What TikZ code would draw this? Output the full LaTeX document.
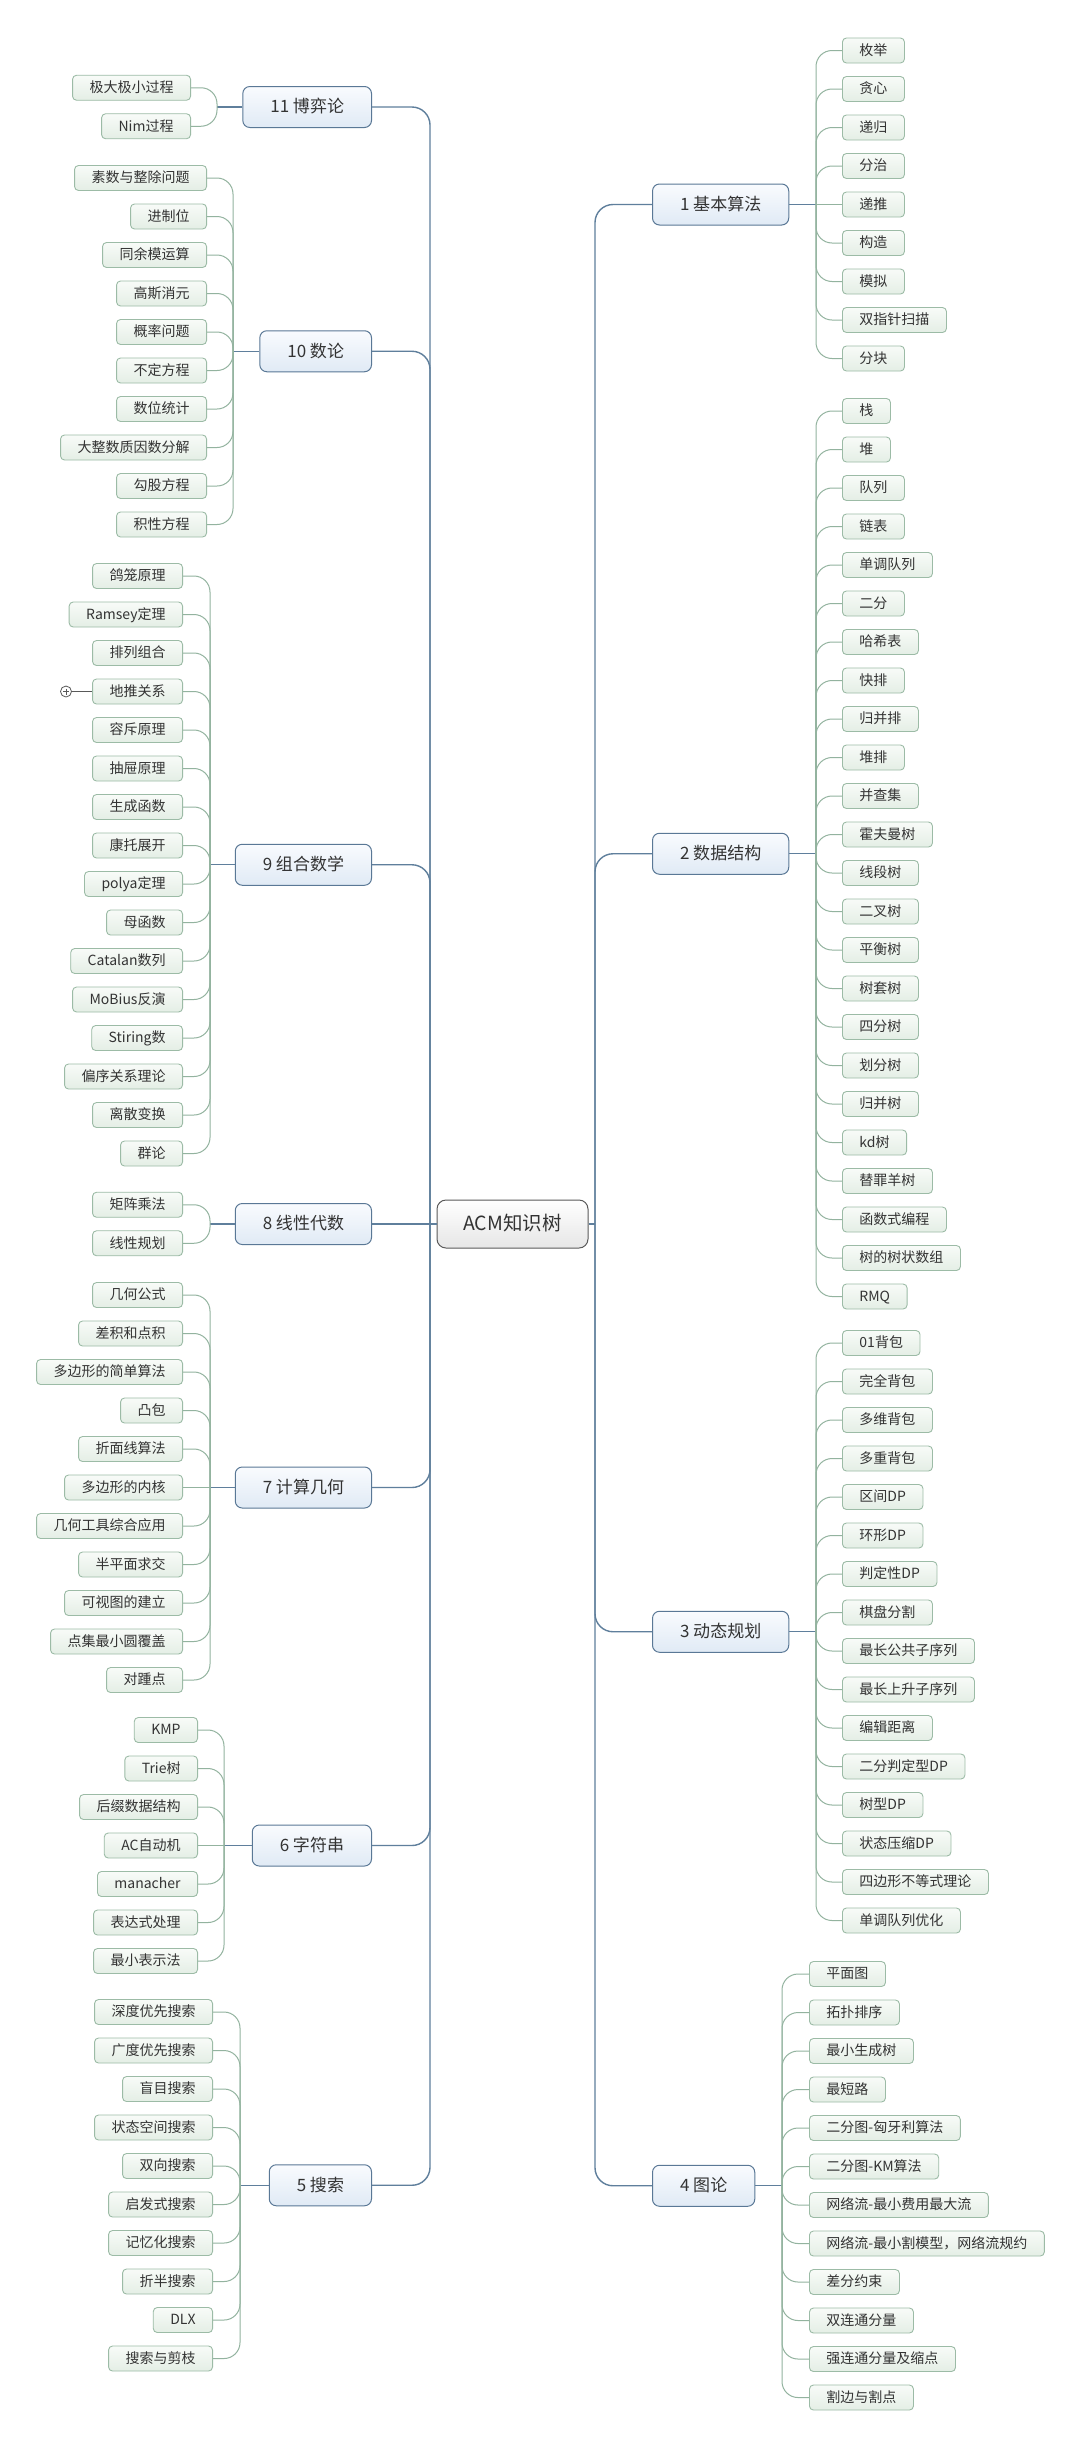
\documentclass[tikz,border=0pt]{standalone}
\usepackage{fontspec}
\setmainfont{Noto Sans CJK SC}
\definecolor{mainln}{HTML}{5F7F9C}
\definecolor{leafln}{HTML}{93B39F}
\definecolor{leafbd}{HTML}{9CBBA6}
\definecolor{leaftop}{HTML}{F8FBF8}
\definecolor{leafbot}{HTML}{E4EEE5}
\definecolor{parbd}{HTML}{5A7896}
\definecolor{partop}{HTML}{F9FBFE}
\definecolor{parbot}{HTML}{E0EAF5}
\definecolor{rootbd}{HTML}{5A5A5A}
\definecolor{rootbot}{HTML}{E6E6E6}
\definecolor{txt}{HTML}{333333}
\tikzset{
  leaf/.style={draw=leafbd, line width=0.9pt, top color=leaftop, bottom color=leafbot,
    rounded corners=4pt, minimum height=25pt, inner xsep=17pt, inner ysep=0pt,
    text height=11pt, text depth=1.5pt, font=\fontsize{14}{16}\selectfont, text=txt},
  parent/.style={draw=parbd, line width=1pt, top color=partop, bottom color=parbot,
    rounded corners=7pt, minimum height=41pt, inner xsep=27.5pt, inner ysep=0pt,
    text height=13.5pt, text depth=2pt, font=\fontsize{17}{20}\selectfont, text=txt},
  root/.style={draw=rootbd, line width=1pt, top color=white, bottom color=rootbot,
    rounded corners=9pt, minimum width=151pt, minimum height=48pt, inner ysep=0pt,
    text height=15.5pt, text depth=2.5pt, font=\fontsize{19.5}{22}\selectfont, text=txt},
  mainline/.style={draw=mainln, line width=1.4pt},
  stubline/.style={draw=mainln, line width=1.1pt},
  leafline/.style={draw=leafln, line width=1pt},
  moremark/.style={draw=gray!70!black, line width=0.8pt},
}
\newcommand{\leavesR}[6]{%
  \foreach \lbl [count=\i] in {#6} {%
    \pgfmathsetmacro{\ly}{#5+(\i-1)*38.5}%
    \pgfmathtruncatemacro{\same}{abs(\ly-(#2))<0.5}%
    \node[leaf, anchor=west] (#1-\i) at (#4,\ly) {\lbl};
    \ifnum\same=1
      \draw[leafline] (#3,#2) -- (#1-\i.west);
    \else
      \draw[leafline, rounded corners=16pt] (#3,#2) -- (#3,\ly) -- (#1-\i.west);
    \fi
  }%
}
\newcommand{\leavesL}[6]{%
  \foreach \lbl [count=\i] in {#6} {%
    \pgfmathsetmacro{\ly}{#5+(\i-1)*38.5}%
    \pgfmathtruncatemacro{\same}{abs(\ly-(#2))<0.5}%
    \node[leaf, anchor=east] (#1-\i) at (#4,\ly) {\lbl};
    \ifnum\same=1
      \draw[leafline] (#3,#2) -- (#1-\i.east);
    \else
      \draw[leafline, rounded corners=16pt] (#3,#2) -- (#3,\ly) -- (#1-\i.east);
    \fi
  }%
}
\begin{document}
\begin{tikzpicture}[x=1pt,y=-1pt]
\useasboundingbox (0,0) rectangle (1082,2447);
\fill[white] (0,0) rectangle (1082,2447);

% root
\node[root] (root) at (512.5,1224) {ACM知识树};

% right main topics
\node[parent, anchor=west] (p1) at (652,204.5) {1 基本算法};
\node[parent, anchor=west] (p2) at (652,853.75) {2 数据结构};
\node[parent, anchor=west] (p3) at (652,1631.75) {3 动态规划};
\node[parent, anchor=west] (p4) at (652,2185.75) {4 图论};
% left main topics
\node[parent, anchor=east] (p11) at (372,107) {11 博弈论};
\node[parent, anchor=east] (p10) at (372,351.25) {10 数论};
\node[parent, anchor=east] (p9) at (372,864.75) {9 组合数学};
\node[parent, anchor=east] (p8) at (372,1224) {8 线性代数};
\node[parent, anchor=east] (p7) at (372,1487.5) {7 计算几何};
\node[parent, anchor=east] (p6) at (372,1845.5) {6 字符串};
\node[parent, anchor=east] (p5) at (372,2185.25) {5 搜索};

% main connectors
\draw[mainline] (root.west) -- (430,1224);
\draw[mainline] (root.east) -- (595,1224);
\draw[mainline, rounded corners=18pt] (430,1224) -- (430,107) -- (p11.east);
\draw[mainline, rounded corners=18pt] (430,1224) -- (430,351.25) -- (p10.east);
\draw[mainline, rounded corners=18pt] (430,1224) -- (430,864.75) -- (p9.east);
\draw[mainline] (430,1224) -- (p8.east);
\draw[mainline, rounded corners=18pt] (430,1224) -- (430,1487.5) -- (p7.east);
\draw[mainline, rounded corners=18pt] (430,1224) -- (430,1845.5) -- (p6.east);
\draw[mainline, rounded corners=18pt] (430,1224) -- (430,2185.25) -- (p5.east);
\draw[mainline, rounded corners=18pt] (595,1224) -- (595,204.5) -- (p1.west);
\draw[mainline, rounded corners=18pt] (595,1224) -- (595,853.75) -- (p2.west);
\draw[mainline, rounded corners=18pt] (595,1224) -- (595,1631.75) -- (p3.west);
\draw[mainline, rounded corners=18pt] (595,1224) -- (595,2185.75) -- (p4.west);

% stubs from topics to their leaf trunks
\draw[stubline] (p1.east) -- (816,204.5);
\draw[stubline] (p2.east) -- (816,853.75);
\draw[stubline] (p3.east) -- (816,1631.75);
\draw[stubline] (p4.east) -- (782,2185.75);
\draw[stubline] (p11.west) -- (217,107);
\draw[stubline] (p10.west) -- (233,351.25);
\draw[stubline] (p9.west) -- (210,864.75);
\draw[stubline] (p8.west) -- (210,1224);
\draw[stubline] (p7.west) -- (210,1487.5);
\draw[stubline] (p6.west) -- (224,1845.5);
\draw[stubline] (p5.west) -- (240,2185.25);

% leaves, right side
\leavesR{r1}{204.5}{816}{842}{50.5}{枚举,贪心,递归,分治,递推,构造,模拟,双指针扫描,分块}
\leavesR{r2}{853.75}{816}{842}{411}{栈,堆,队列,链表,单调队列,二分,哈希表,快排,归并排,堆排,并查集,霍夫曼树,线段树,二叉树,平衡树,树套树,四分树,划分树,归并树,kd树,替罪羊树,函数式编程,树的树状数组,RMQ}
\leavesR{r3}{1631.75}{816}{842}{1343}{01背包,完全背包,多维背包,多重背包,区间DP,环形DP,判定性DP,棋盘分割,最长公共子序列,最长上升子序列,编辑距离,二分判定型DP,树型DP,状态压缩DP,四边形不等式理论,单调队列优化}
\leavesR{r4}{2185.75}{782}{809}{1974}{平面图,拓扑排序,最小生成树,最短路,二分图-匈牙利算法,二分图-KM算法,网络流-最小费用最大流,网络流-最小割模型，网络流规约,差分约束,双连通分量,强连通分量及缩点,割边与割点}

% leaves, left side
\leavesL{l11}{107}{217}{191}{87.75}{极大极小过程,Nim过程}
\leavesL{l10}{351.25}{233}{207}{178}{素数与整除问题,进制位,同余模运算,高斯消元,概率问题,不定方程,数位统计,大整数质因数分解,勾股方程,积性方程}
\leavesL{l9}{864.75}{210}{183}{576}{鸽笼原理,Ramsey定理,排列组合,地推关系,容斥原理,抽屉原理,生成函数,康托展开,polya定理,母函数,Catalan数列,MoBius反演,Stiring数,偏序关系理论,离散变换,群论}
\leavesL{l8}{1224}{210}{183}{1204.75}{矩阵乘法,线性规划}
\leavesL{l7}{1487.5}{210}{183}{1295}{几何公式,差积和点积,多边形的简单算法,凸包,折面线算法,多边形的内核,几何工具综合应用,半平面求交,可视图的建立,点集最小圆覆盖,对踵点}
\leavesL{l6}{1845.5}{224}{198}{1730}{KMP,Trie树,后缀数据结构,AC自动机,manacher,表达式处理,最小表示法}
\leavesL{l5}{2185.25}{240}{213}{2012}{深度优先搜索,广度优先搜索,盲目搜索,状态空间搜索,双向搜索,启发式搜索,记忆化搜索,折半搜索,DLX,搜索与剪枝}

% collapsed-branch marker on 地推关系
\node[moremark, circle, fill=white, minimum size=11pt, inner sep=0pt] (more) at (66,691.5) {};
\draw[moremark] (more.center) +(-3,0) -- +(3,0) +(0,-3) -- +(0,3);
\draw[moremark, line width=0.6pt] (more.east) -- (l9-4.west);
\end{tikzpicture}
\end{document}
